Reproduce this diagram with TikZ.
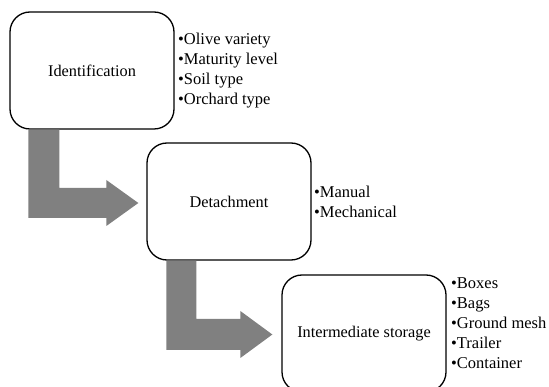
\documentclass[tikz,border=0pt]{standalone}
\usepackage{fontspec}
\setmainfont{Liberation Serif}
\usetikzlibrary{calc}
\begin{document}
\begin{tikzpicture}[x=1pt,y=-1pt,
  stagebox/.style={draw=black,line width=1.3pt,rounded corners=20pt,fill=white,
    minimum width=164pt,minimum height=117pt,inner sep=0pt,
    font=\fontsize{16.3}{20}\selectfont},
  itemlist/.style={anchor=west,align=left,inner sep=0pt,
    font=\fontsize{16.5}{20}\selectfont},
  blockarrow/.style={fill=arrowgray,draw=none}]
\definecolor{arrowgray}{HTML}{808080}
\useasboundingbox (0,0) rectangle (549,387);
\node[stagebox] (b1) at (92,70.5) {Identification};
\node[stagebox] (b2) at (229,201.5) {Detachment};
\node[stagebox] (b3) at (364,333.5) {Intermediate storage};
\node[itemlist] (l1) at (178,70.5) {•Olive variety\\•Maturity level\\•Soil type\\•Orchard type};
\node[itemlist] (l2) at (314,202) {•Manual\\•Mechanical};
\node[itemlist] (l3) at (451,323) {•Boxes\\•Bags\\•Ground mesh\\•Trailer\\•Container};
% block arrows
\coordinate (t1) at ($(b2.west)+(-8,1.5)$);
\coordinate (s1) at ($(b1.south west)+(19,0)$);
\fill[blockarrow] (s1) -- ++(31,0) |- ($(t1)+(-32,-15)$) -- ++(0,-8) -- (t1)
  -- ++(-32,23) -- ++(0,-8) -| (s1) -- cycle;
\coordinate (t2) at ($(b3.west)+(-9,1)$);
\coordinate (s2) at ($(b2.south west)+(20,0)$);
\fill[blockarrow] (s2) -- ++(30,0) |- ($(t2)+(-32,-15.5)$) -- ++(0,-8) -- (t2)
  -- ++(-32,23.5) -- ++(0,-8) -| (s2) -- cycle;
\end{tikzpicture}
\end{document}
